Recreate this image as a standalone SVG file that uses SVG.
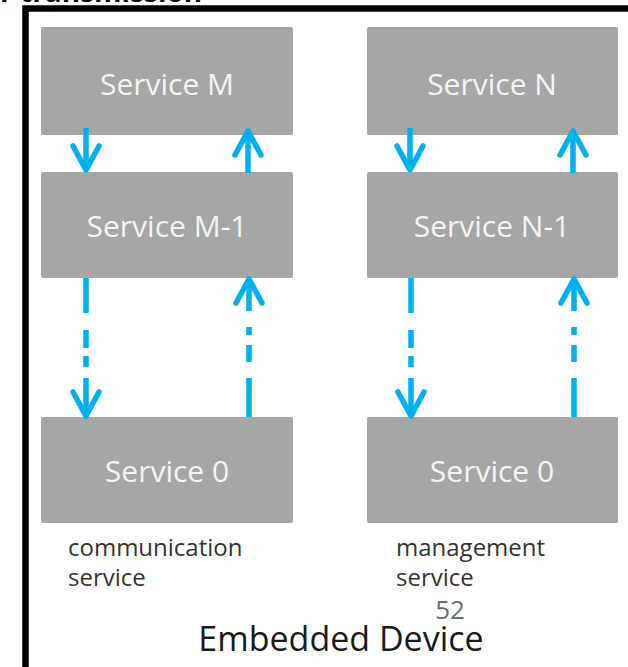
<svg xmlns="http://www.w3.org/2000/svg" width="628" height="667" viewBox="0 0 628 667">
  <style>
    .box { fill: #a6a6a6; }
    .btxt { font-family: "Open Sans", "Liberation Sans", sans-serif; font-size: 30px; fill: #f4f4f4; text-anchor: middle; }
    .lbl { font-family: "Open Sans", "Liberation Sans", sans-serif; font-size: 24px; fill: #333333; }
    .conn { fill: none; stroke: #00b0f0; stroke-width: 5.5; marker-end: url(#head); }
  </style>
  <defs>
    <marker id="head" markerUnits="userSpaceOnUse" markerWidth="60" markerHeight="60" refX="0" refY="0" viewBox="-30 -30 60 60" orient="auto" overflow="visible">
      <path d="M-24,-13 L0,0 L-24,13" fill="none" stroke="#00b0f0" stroke-width="5.5" stroke-linecap="round" stroke-linejoin="round"/>
    </marker>
  </defs>

  <rect width="628" height="667" fill="#ffffff"/>

  <!-- heading, cut off by the top edge -->
  <text x="0" y="2" font-family="Open Sans, Liberation Sans, sans-serif" font-size="28" font-weight="bold" fill="#111111">r transmission</text>

  <!-- device frame -->
  <path d="M25.5 667 V8.5 H628" fill="none" stroke="#000000" stroke-width="6.5"/>

  <!-- communication service stack -->
  <g id="service-m">
    <rect class="box" x="41" y="27" width="252" height="108" rx="2"/>
    <text class="btxt" x="167" y="95">Service M</text>
  </g>
  <g id="service-m-1">
    <rect class="box" x="41" y="172" width="252" height="106" rx="2"/>
    <text class="btxt" x="167" y="237">Service M-1</text>
  </g>
  <g id="service-0-comm">
    <rect class="box" x="41" y="417" width="252" height="106" rx="2"/>
    <text class="btxt" x="167" y="482">Service 0</text>
  </g>

  <!-- management service stack -->
  <g id="service-n">
    <rect class="box" x="367" y="27" width="251" height="108" rx="2"/>
    <text class="btxt" x="492" y="95">Service N</text>
  </g>
  <g id="service-n-1">
    <rect class="box" x="367" y="172" width="251" height="106" rx="2"/>
    <text class="btxt" x="492" y="237">Service N-1</text>
  </g>
  <g id="service-0-mgmt">
    <rect class="box" x="367" y="417" width="251" height="106" rx="2"/>
    <text class="btxt" x="492" y="482">Service 0</text>
  </g>

  <!-- connectors -->
  <g id="connectors">
    <path class="conn" d="M86 128 V170"/>
    <path class="conn" d="M248 173 V131"/>
    <path class="conn" d="M86 278 V313 M86 330 V348 M86 356 V367 M86 378 V416"/>
    <path class="conn" d="M249 417 V378 M249 362 V345 M249 335 V327 M249 311 V279"/>

    <path class="conn" d="M410 128 V170"/>
    <path class="conn" d="M573 173 V131"/>
    <path class="conn" d="M411 278 V313 M411 330 V348 M411 356 V367 M411 378 V416"/>
    <path class="conn" d="M574 417 V378 M574 362 V345 M574 335 V327 M574 311 V279"/>
  </g>

  <!-- captions -->
  <text class="lbl" x="68" y="556">communication</text>
  <text class="lbl" x="68" y="586">service</text>
  <text class="lbl" x="396" y="556">management</text>
  <text class="lbl" x="396" y="586">service</text>
  <text x="450" y="619" font-family="Open Sans, Liberation Sans, sans-serif" font-size="26" fill="#6b6b6b" text-anchor="middle">52</text>
  <text x="341" y="651" font-family="Open Sans, Liberation Sans, sans-serif" font-size="34" fill="#1a1a1a" text-anchor="middle">Embedded Device</text>
</svg>
